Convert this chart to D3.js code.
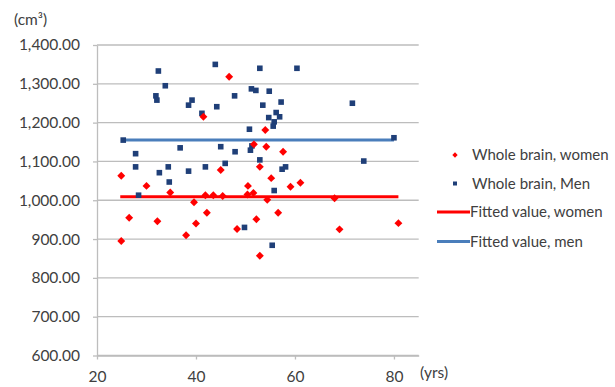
<!DOCTYPE html>
<html>
<head>
<meta charset="utf-8">
<script src="https://cdn.jsdelivr.net/npm/d3@7"></script>
<style>
  html, body { margin: 0; padding: 0; background: #fff; }
  svg { display: block; font-family: Lato, "Open Sans", sans-serif; }
</style>
</head>
<body>
<svg id="chart" width="615" height="387"></svg>
<script>
// Whole-brain volume (cm³) against age (yrs)
const womenAge = [24.9, 24.9, 26.5, 30.0, 32.2, 34.8, 38.0, 39.6, 40.0, 41.5, 41.9, 42.2,
  43.5, 45.0, 45.4, 46.7, 48.3, 50.4, 50.5, 51.6, 51.7, 52.2, 52.9, 52.9, 54.0, 54.2,
  54.4, 55.2, 56.6, 57.6, 59.1, 61.1, 68.0, 69.0, 80.9];
const womenVolume = [1063, 895, 955, 1037, 946, 1020, 910, 995, 940, 1215, 1013, 968,
  1013, 1078, 1011, 1318, 926, 1015, 1037, 1019, 1144, 951, 1086, 857, 1181, 1138,
  1001, 1057, 968, 1125, 1035, 1045, 1005, 925, 941];

const menAge = [32.4, 33.8, 31.9, 32.1, 39.2, 38.5, 41.2, 25.3, 36.8, 27.8, 27.8, 32.6,
  34.4, 38.5, 41.9, 28.4, 34.6, 43.9, 52.9, 60.4, 51.2, 52.1, 54.8, 47.8, 57.2, 53.5,
  44.2, 56.2, 54.7, 56.9, 55.8, 55.6, 50.8, 45.0, 51.3, 51.0, 47.9, 52.9, 45.9, 57.4,
  58.1, 55.8, 49.8, 55.4, 71.6, 80.0, 73.9];
const menVolume = [1333, 1295, 1269, 1258, 1258, 1245, 1224, 1155, 1135, 1120, 1086, 1071,
  1086, 1075, 1086, 1013, 1047, 1350, 1340, 1340, 1287, 1283, 1281, 1269, 1253, 1245,
  1241, 1226, 1213, 1215, 1202, 1191, 1183, 1138, 1140, 1129, 1125, 1104, 1095, 1080,
  1086, 1025, 930, 884, 1250, 1161, 1101];

// Fitted values: constant across the age span
const fitWomenAge = [24.7, 80.9];
const fitWomenValue = [1009, 1009];
const fitMenAge = [25.3, 80.0];
const fitMenValue = [1155, 1155];

const yTicks = [600, 700, 800, 900, 1000, 1100, 1200, 1300, 1400];
const xTicks = [20, 40, 60, 80];

const legendLabels = ["Whole brain, women", "Whole brain, Men", "Fitted value, women", "Fitted value, men"];

const RED = "#ff0000";
const NAVY = "#1f3f78";
const LINE_BLUE = "#4a7ebb";
const TEXT = "#404040";
const GRID = "#bdbdbd";
const FONT_SIZE = "15.5px";

const svg = d3.select("#chart");

const x = d3.scaleLinear().domain([20, 85]).range([97, 418.7]);
const y = d3.scaleLinear().domain([600, 1400]).range([355.5, 45]);

// Horizontal gridlines
svg.append("g")
  .selectAll("line")
  .data(yTicks)
  .join("line")
  .attr("x1", x(20)).attr("x2", x(85))
  .attr("y1", d => y(d)).attr("y2", d => y(d))
  .attr("stroke", GRID).attr("stroke-width", 1.3);

// Y axis
const yAxis = svg.append("g")
  .attr("transform", `translate(${x(20)},0)`)
  .call(d3.axisLeft(y).tickValues(yTicks).tickFormat(d3.format(",.2f")).tickSizeInner(4).tickSizeOuter(0).tickPadding(13));
yAxis.select(".domain").attr("stroke", GRID).attr("stroke-width", 1.3);
yAxis.selectAll(".tick line").attr("stroke", GRID).attr("stroke-width", 1.3);
yAxis.selectAll(".tick text").attr("fill", TEXT).style("font-size", FONT_SIZE).style("font-family", "Lato, 'Open Sans', sans-serif");

// X axis
const xAxis = svg.append("g")
  .attr("transform", `translate(0,${y(600)})`)
  .call(d3.axisBottom(x).tickValues(xTicks).tickSizeInner(4).tickSizeOuter(0).tickPadding(11));
xAxis.select(".domain").attr("stroke", GRID).attr("stroke-width", 1.3);
xAxis.selectAll(".tick line").attr("stroke", GRID).attr("stroke-width", 1.3);
xAxis.selectAll(".tick text").attr("fill", TEXT).style("font-size", FONT_SIZE).style("font-family", "Lato, 'Open Sans', sans-serif");

// Unit labels
svg.append("text").attr("x", 14).attr("y", 25).attr("fill", TEXT)
  .style("font-size", FONT_SIZE).text("(cm³)");
svg.append("text").attr("x", 420).attr("y", 378).attr("fill", TEXT)
  .style("font-size", FONT_SIZE).text("(yrs)");

// Fitted lines
const line = d3.line().x(d => x(d[0])).y(d => y(d[1]));
svg.append("path")
  .datum(d3.zip(fitWomenAge, fitWomenValue))
  .attr("d", line).attr("fill", "none").attr("stroke", RED).attr("stroke-width", 3);
svg.append("path")
  .datum(d3.zip(fitMenAge, fitMenValue))
  .attr("d", line).attr("fill", "none").attr("stroke", LINE_BLUE).attr("stroke-width", 3);

// Men: squares
const sq = 5.6;
svg.append("g")
  .selectAll("rect")
  .data(d3.zip(menAge, menVolume))
  .join("rect")
  .attr("x", d => x(d[0]) - sq / 2)
  .attr("y", d => y(d[1]) - sq / 2)
  .attr("width", sq).attr("height", sq)
  .attr("fill", NAVY);

// Women: diamonds
const diamond = d3.symbol().type(d3.symbolDiamond2).size(40);
svg.append("g")
  .selectAll("path")
  .data(d3.zip(womenAge, womenVolume))
  .join("path")
  .attr("transform", d => `translate(${x(d[0])},${y(d[1])})`)
  .attr("d", diamond)
  .attr("fill", RED);

// Legend
const legend = svg.append("g");
const legendY = [155, 183.5, 212, 241.5];
legend.append("path")
  .attr("transform", `translate(455,${legendY[0]})`)
  .attr("d", d3.symbol().type(d3.symbolDiamond2).size(18))
  .attr("fill", RED);
legend.append("rect")
  .attr("x", 453).attr("y", legendY[1] - 2).attr("width", 4).attr("height", 4)
  .attr("fill", NAVY);
legend.append("line")
  .attr("x1", 437).attr("x2", 470).attr("y1", legendY[2]).attr("y2", legendY[2])
  .attr("stroke", RED).attr("stroke-width", 3);
legend.append("line")
  .attr("x1", 437).attr("x2", 470).attr("y1", legendY[3]).attr("y2", legendY[3])
  .attr("stroke", LINE_BLUE).attr("stroke-width", 3);
legend.selectAll("text")
  .data(legendLabels)
  .join("text")
  .attr("x", (d, i) => i < 2 ? 472 : 470)
  .attr("y", (d, i) => legendY[i])
  .attr("dy", "0.35em")
  .attr("fill", TEXT)
  .style("font-size", "15px")
  .text(d => d);
</script>
</body>
</html>
